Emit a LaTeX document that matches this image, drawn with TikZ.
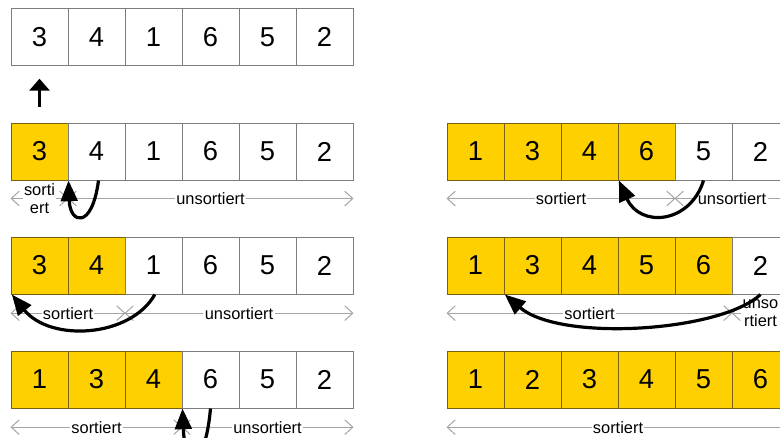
\documentclass[tikz,border=0pt]{standalone}
\usepackage{fontspec}
\setmainfont{Liberation Sans}
\usetikzlibrary{arrows.meta}
\definecolor{sortgelb}{RGB}{255,208,0}
\definecolor{rahmen}{RGB}{125,125,125}
\definecolor{rahmengelb}{RGB}{120,96,20}
\definecolor{skala}{RGB}{165,165,165}

\begin{document}
\begin{tikzpicture}[x=0.75pt,y=-0.75pt,
  zelle/.style={draw=rahmen, line width=0.75pt, fill=white,
    minimum width=42.75pt, minimum height=42.75pt, inner sep=0pt,
    font=\fontsize{20.5}{20.5}\selectfont},
  fertig/.style={zelle, fill=sortgelb, draw=rahmengelb},
  bereich/.style={draw=skala, line width=0.75pt,
    {Straight Barb[length=6pt,width=11pt]}-{Straight Barb[length=6pt,width=11pt]}},
  etikett/.style={fill=white, inner sep=1pt, text=black,
    font=\fontsize{12.3}{13.5}\selectfont, align=center},
  schritt/.style={line width=2.4pt, -{Triangle[length=15.5pt,width=12.5pt]}},
  zeiger/.style={line width=2.4pt, -{Triangle[length=9pt,width=15pt]}}]
\useasboundingbox (0,0) rectangle (780,437);

% starting array with a pointer to its first element
\foreach \v [count=\i] in {3,4,1,6,5,2}
  \node[zelle] (a\i) at ({-17.5+57*\i},37) {\v};
\draw[zeiger] ([yshift=-31pt]a1.south) -- ([yshift=-9.5pt]a1.south);

% left column: steps 1 to 3
\foreach \v/\s [count=\i] in {3/fertig,4/zelle,1/zelle,6/zelle,5/zelle,2/zelle}
  \node[\s] (b\i) at ({-17.5+57*\i},151.5) {\v};
\foreach \v/\s [count=\i] in {3/fertig,4/fertig,1/zelle,6/zelle,5/zelle,2/zelle}
  \node[\s] (c\i) at ({-17.5+57*\i},265.5) {\v};
\foreach \v/\s [count=\i] in {1/fertig,3/fertig,4/fertig,6/zelle,5/zelle,2/zelle}
  \node[\s] (d\i) at ({-17.5+57*\i},379.5) {\v};

% right column: steps 4 to 6
\foreach \v/\s [count=\i] in {1/fertig,3/fertig,4/fertig,6/fertig,5/zelle,2/zelle}
  \node[\s] (e\i) at ({418.5+57*\i},151.5) {\v};
\foreach \v/\s [count=\i] in {1/fertig,3/fertig,4/fertig,5/fertig,6/fertig,2/zelle}
  \node[\s] (f\i) at ({418.5+57*\i},265.5) {\v};
\foreach \v [count=\i] in {1,2,3,4,5,6}
  \node[fertig] (g\i) at ({418.5+57*\i},379.5) {\v};

% sorted / unsorted ranges below each array
\draw[bereich] ([yshift=-13.5pt]b1.south west) -- ([yshift=-13.5pt]b1.south east)
  node[midway, etikett] {sorti\\ert};
\draw[bereich] ([yshift=-13.5pt]b2.south west) -- ([yshift=-13.5pt]b6.south east)
  node[midway, etikett] {unsortiert};
\draw[bereich] ([yshift=-14pt]c1.south west) -- ([yshift=-14pt]c2.south east)
  node[midway, etikett] {sortiert};
\draw[bereich] ([yshift=-14pt]c3.south west) -- ([yshift=-14pt]c6.south east)
  node[midway, etikett] {unsortiert};
\draw[bereich] ([yshift=-14pt]d1.south west) -- ([yshift=-14pt]d3.south east)
  node[midway, etikett] {sortiert};
\draw[bereich] ([yshift=-14pt]d4.south west) -- ([yshift=-14pt]d6.south east)
  node[midway, etikett] {unsortiert};
\draw[bereich] ([yshift=-13.5pt]e1.south west) -- ([yshift=-13.5pt]e4.south east)
  node[midway, etikett] {sortiert};
\draw[bereich] ([yshift=-13.5pt]e5.south west) -- ([yshift=-13.5pt]e6.south east)
  node[midway, etikett] {unsortiert};
\draw[bereich] ([yshift=-14pt]f1.south west) -- ([yshift=-14pt]f5.south east)
  node[midway, etikett] {sortiert};
\draw[bereich] ([yshift=-14pt]f6.south west) -- ([yshift=-14pt]f6.south east)
  node[midway, etikett] {unso\\rtiert};
\draw[bereich] ([yshift=-14pt]g1.south west) -- ([yshift=-14pt]g6.south east)
  node[midway, etikett] {sortiert};

% insertion moves
\draw[schritt] ([xshift=1.5pt]b2.south) .. controls (92,230) and (70,224) .. (b1.south east);
\draw[schritt] ([xshift=1pt]c3.south) .. controls (130,338) and (50,342) .. ([xshift=1pt]c1.south west);
\draw[schritt] (d4.south) .. controls (205,470) and (185,470) .. (d3.south east);
\draw[schritt] (e5.south) .. controls (690,224) and (640,228) .. ([xshift=1pt]e4.south west);
\draw[schritt] (f6.south) .. controls (720,332) and (560,342) .. ([xshift=1pt]f2.south west);
\end{tikzpicture}
\end{document}
